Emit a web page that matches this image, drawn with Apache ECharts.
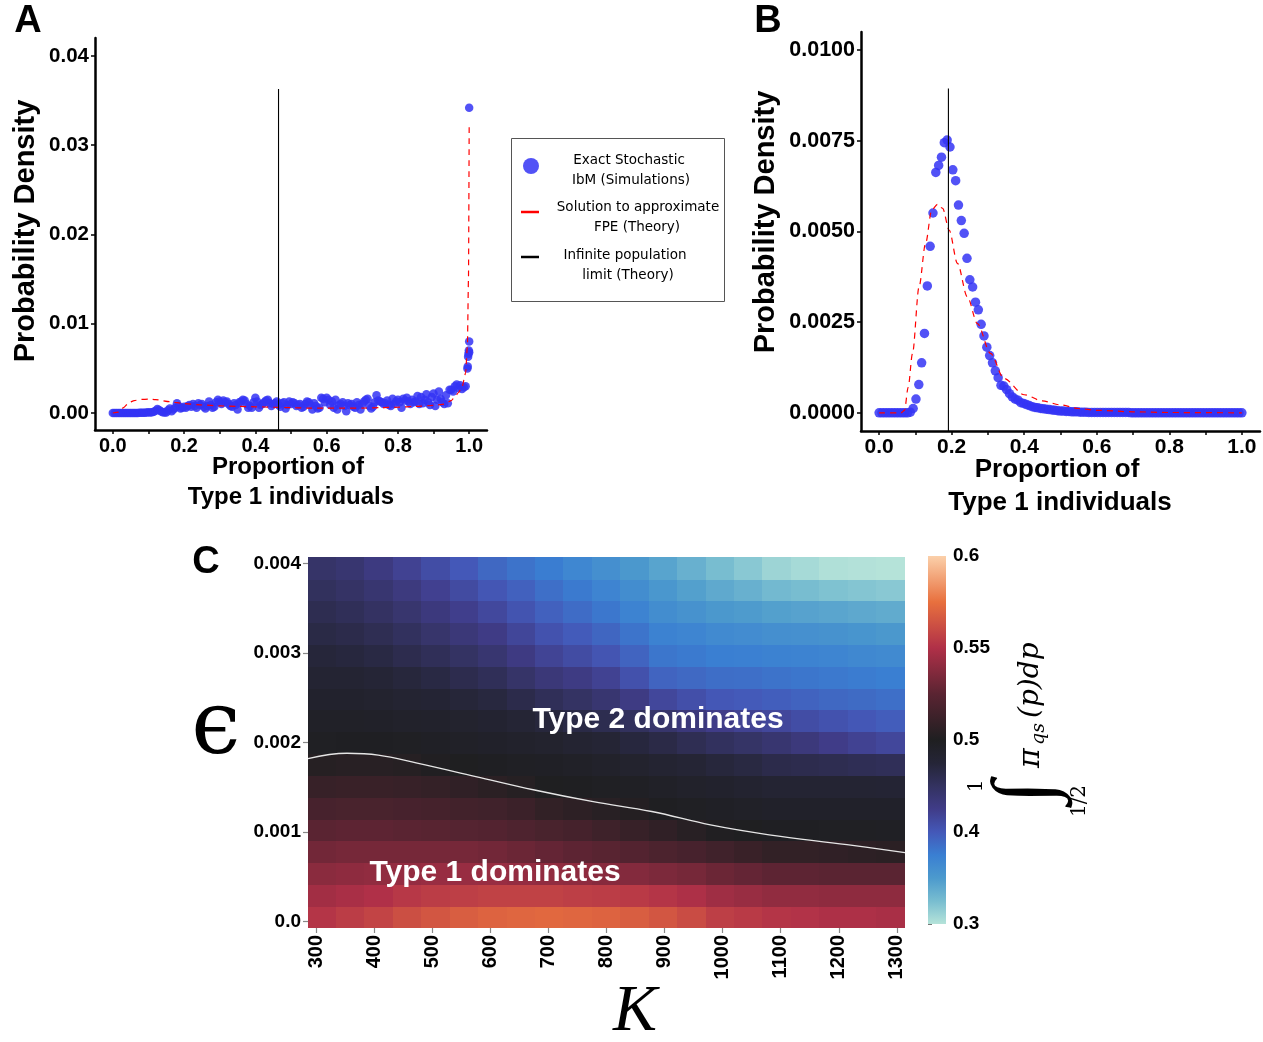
<!DOCTYPE html>
<html>
<head>
<meta charset="utf-8">
<script src="https://cdn.jsdelivr.net/npm/echarts@6/dist/echarts.min.js"></script>
<style>
html, body { margin: 0; padding: 0; background: #fff; }
#main { width: 1263px; height: 1042px; }
</style>
</head>
<body>
<div id="main"></div>
<script>
// ---------- panel A (values in units of 1e-3) ----------
const pA_step = 0.005;
const pA_sim = [
    0, 0, 0, 0, 0, 0, 0, 0, 0, 0,
    0, 0, 0, 0, 0, 0.02, 0.02, 0.03, 0.03, 0.05,
    0.1, 0.05, 0.08, 0.15, 0.25, 0.45, 0.35, 0.2, 0.1, 0.05,
    0.05, 0.3, 0.5, 0.2, 0.4, 0.6, 1.1, 0.8, 0.5, 0.6,
    0.7, 0.6, 0.8, 0.9, 0.7, 1.0, 0.8, 0.6, 1.1, 0.9,
    1.0, 0.7, 0.5, 0.8, 1.3, 0.9, 0.6, 0.7, 1.2, 1.5,
    1.3, 1.0, 1.4, 1.2, 1.3, 1.0, 0.8, 0.7, 1.1, 0.9,
    0.4, 1.2, 1.3, 1.5, 1.4, 1.0, 0.6, 0.8, 0.6, 1.2,
    1.7, 1.3, 0.6, 0.9, 1.0, 1.2, 1.4, 1.5, 1.1, 0.8,
    1.0, 1.1, 1.3, 0.9, 0.7, 1.1, 1.2, 0.5, 0.9, 1.3,
    1.0, 1.2, 1.1, 0.8, 0.9, 1.0, 0.6, 0.7, 1.0, 1.3,
    1.2, 0.9, 0.4, 1.1, 0.8, 0.5, 0.6, 1.7, 1.6, 1.2,
    1.7, 1.5, 0.9, 1.3, 0.6, 1.5, 0.4, 0.9, 1.0, 1.2,
    0.8, 0.2, 1.1, 0.9, 1.0, 0.7, 0.6, 1.2, 0.9, 0.4,
    1.0, 1.3, 1.5, 1.6, 0.8, 0.5, 0.7, 1.2, 2.0, 1.4,
    1.3, 1.2, 1.0, 1.1, 1.4, 0.9, 0.8, 1.6, 1.0, 1.3,
    1.5, 1.2, 0.6, 1.6, 1.4, 1.7, 1.3, 1.0, 1.5, 1.2,
    1.3, 1.9, 1.0, 1.8, 1.1, 1.5, 2.1, 1.2, 0.9, 1.8,
    2.2, 0.8, 1.5, 2.4, 1.6, 1.2, 1.0, 2.0, 1.1, 2.6,
    2.6, 2.4, 3.0, 3.2, 2.8, 3.1, 2.7, 2.9, 3.0, 5.0
];
const pA_tail = [[0.996, 5.2], [0.997, 6.3], [0.998, 6.6], [0.999, 7.0], [1.0, 8.0], [1.0, 6.8], [1.0, 34.2]];
const pA_fpe = [
    [0, 0], [0.015, 0.1], [0.03, 0.6], [0.045, 1.15], [0.06, 1.4], [0.08, 1.53], [0.1, 1.55],
    [0.12, 1.5], [0.16, 1.27], [0.2, 1.05], [0.25, 0.9], [0.3, 0.8], [0.35, 0.75], [0.4, 0.7],
    [0.45, 0.65], [0.5, 0.6], [0.55, 0.55], [0.6, 0.55], [0.65, 0.55], [0.7, 0.55], [0.75, 0.6],
    [0.8, 0.65], [0.85, 0.75], [0.9, 0.85], [0.93, 1.0], [0.95, 1.4], [0.96, 1.8], [0.97, 2.3],
    [0.98, 2.9], [0.99, 4.5], [0.995, 7.5], [0.998, 15], [1.0, 32.3]
];
const pA_mean = [[0.465, -1.9], [0.465, 36.3]];

// ---------- panel B (values in units of 1e-3) ----------
const pB_step = 1 / 128;
const pB_sim = [
    0, 0, 0, 0, 0, 0, 0, 0, 0, 0, 0, 0.02,
    0.12, 0.38, 0.78, 1.38, 2.19, 3.5, 4.59, 5.51, 6.63, 6.82,
    7.05, 7.45, 7.52, 7.33, 6.7, 6.4, 5.73, 5.3, 4.95, 4.26,
    3.67, 3.47, 3.05, 2.84, 2.44, 2.12, 1.81, 1.58, 1.38, 1.16,
    0.97, 0.76, 0.74, 0.64, 0.53, 0.44, 0.38, 0.35, 0.28, 0.26,
    0.23, 0.2, 0.17, 0.15, 0.14, 0.12, 0.11, 0.1, 0.09, 0.08,
    0.07, 0.06, 0.05, 0.05, 0.04, 0.04, 0.03, 0.03, 0.03, 0.02,
    0.02, 0.02, 0.01, 0.01, 0.01, 0.01, 0.01, 0.01, 0.01, 0.01,
    0.01, 0.01, 0.01, 0.01, 0.01, 0.01, 0.01, 0, 0, 0,
    0, 0, 0, 0, 0, 0, 0, 0, 0, 0,
    0, 0, 0, 0, 0, 0, 0, 0, 0, 0,
    0, 0, 0, 0, 0, 0, 0, 0, 0, 0,
    0, 0, 0, 0, 0, 0, 0
];
const pB_fpe = [
    [0, 0], [0.06, 0], [0.07, 0.07], [0.08, 0.7], [0.092, 1.64], [0.11, 3.47], [0.128, 4.67],
    [0.145, 5.59], [0.161, 5.75], [0.175, 5.64], [0.193, 5.04], [0.216, 4.12], [0.243, 3.2],
    [0.271, 2.46], [0.307, 1.64], [0.344, 0.95], [0.4, 0.5], [0.45, 0.33], [0.5, 0.22],
    [0.55, 0.12], [0.6, 0.07], [0.7, 0.03], [0.8, 0.01], [1.0, 0]
];
const pB_mean = [[0.191, -0.5], [0.191, 8.94]];

// ---------- panel C ----------
const kValues = [300, 350, 400, 450, 500, 550, 600, 650, 700, 750, 800,
    850, 900, 950, 1000, 1050, 1100, 1150, 1200, 1250, 1300];
const epsValues = [0, 0.00025, 0.0005, 0.00075, 0.001, 0.00125, 0.0015, 0.00175, 0.002,
    0.00225, 0.0025, 0.00275, 0.003, 0.00325, 0.0035, 0.00375, 0.004];
// one column per K, eps from bottom to top
const piCols = [
    [0.552, 0.546, 0.539, 0.532, 0.525, 0.517, 0.510, 0.503, 0.497, 0.492, 0.486, 0.480, 0.473, 0.466, 0.459, 0.452, 0.445],
    [0.555, 0.548, 0.540, 0.533, 0.526, 0.518, 0.511, 0.504, 0.498, 0.492, 0.486, 0.479, 0.471, 0.463, 0.455, 0.447, 0.440],
    [0.558, 0.550, 0.541, 0.533, 0.526, 0.518, 0.511, 0.504, 0.498, 0.491, 0.484, 0.476, 0.467, 0.458, 0.449, 0.440, 0.430],
    [0.562, 0.553, 0.542, 0.533, 0.525, 0.517, 0.510, 0.503, 0.497, 0.489, 0.481, 0.472, 0.461, 0.451, 0.441, 0.431, 0.420],
    [0.565, 0.555, 0.543, 0.533, 0.524, 0.516, 0.509, 0.501, 0.494, 0.487, 0.478, 0.467, 0.455, 0.443, 0.432, 0.421, 0.410],
    [0.568, 0.556, 0.543, 0.533, 0.523, 0.515, 0.507, 0.500, 0.492, 0.485, 0.474, 0.461, 0.448, 0.435, 0.423, 0.412, 0.400],
    [0.570, 0.557, 0.543, 0.532, 0.522, 0.514, 0.505, 0.498, 0.490, 0.482, 0.470, 0.455, 0.440, 0.427, 0.414, 0.402, 0.390],
    [0.571, 0.557, 0.542, 0.530, 0.520, 0.512, 0.503, 0.496, 0.488, 0.477, 0.463, 0.445, 0.429, 0.416, 0.404, 0.394, 0.383],
    [0.572, 0.557, 0.541, 0.528, 0.518, 0.508, 0.500, 0.494, 0.485, 0.472, 0.455, 0.435, 0.418, 0.405, 0.394, 0.385, 0.376],
    [0.571, 0.556, 0.540, 0.526, 0.516, 0.506, 0.499, 0.492, 0.481, 0.466, 0.448, 0.428, 0.411, 0.398, 0.387, 0.378, 0.368],
    [0.570, 0.555, 0.538, 0.524, 0.513, 0.504, 0.497, 0.489, 0.477, 0.460, 0.440, 0.420, 0.403, 0.391, 0.380, 0.370, 0.360],
    [0.568, 0.554, 0.537, 0.522, 0.510, 0.502, 0.495, 0.485, 0.471, 0.452, 0.428, 0.406, 0.392, 0.382, 0.371, 0.362, 0.352],
    [0.565, 0.552, 0.535, 0.519, 0.507, 0.499, 0.492, 0.481, 0.465, 0.443, 0.415, 0.392, 0.381, 0.372, 0.362, 0.353, 0.343],
    [0.561, 0.549, 0.533, 0.517, 0.504, 0.497, 0.489, 0.477, 0.458, 0.434, 0.408, 0.389, 0.378, 0.369, 0.357, 0.346, 0.334],
    [0.556, 0.545, 0.530, 0.514, 0.501, 0.494, 0.486, 0.472, 0.451, 0.425, 0.401, 0.386, 0.375, 0.365, 0.352, 0.339, 0.325],
    [0.554, 0.543, 0.528, 0.511, 0.500, 0.492, 0.483, 0.468, 0.446, 0.420, 0.399, 0.385, 0.374, 0.363, 0.349, 0.334, 0.318],
    [0.552, 0.541, 0.526, 0.508, 0.498, 0.490, 0.480, 0.463, 0.440, 0.415, 0.396, 0.383, 0.372, 0.360, 0.346, 0.328, 0.310],
    [0.551, 0.541, 0.526, 0.508, 0.498, 0.490, 0.480, 0.461, 0.433, 0.410, 0.393, 0.381, 0.371, 0.359, 0.344, 0.325, 0.306],
    [0.549, 0.540, 0.525, 0.507, 0.497, 0.490, 0.479, 0.459, 0.425, 0.405, 0.390, 0.379, 0.369, 0.357, 0.342, 0.322, 0.302],
    [0.549, 0.540, 0.525, 0.506, 0.497, 0.490, 0.479, 0.457, 0.420, 0.401, 0.388, 0.377, 0.367, 0.355, 0.340, 0.320, 0.301],
    [0.548, 0.540, 0.525, 0.505, 0.496, 0.490, 0.478, 0.455, 0.415, 0.397, 0.385, 0.375, 0.365, 0.352, 0.338, 0.318, 0.300]
];
// where the integral equals 1/2 (eps in 1e-3)
const boundaryK = [286, 353, 407, 474, 575, 676, 777, 878, 979, 1080, 1214, 1314];
const boundaryEps = [1.82, 1.88, 1.86, 1.77, 1.62, 1.47, 1.34, 1.23, 1.08, 0.97, 0.86, 0.77];

// colour scale (icefire-like), value -> colour
const cbValues = [0.3, 0.325, 0.35, 0.375, 0.4, 0.425, 0.45, 0.475, 0.5, 0.525, 0.55, 0.575, 0.6];
const cbColors = ['#b5e3d9', '#78bdd0', '#4c9acd', '#3a7fd2', '#4458b8', '#403c88', '#333260',
    '#252537', '#1f1f21', '#5a2432', '#b03048', '#e8703e', '#fbd0aa'];

// tick positions
const xTicksAB = [0, 0.1, 0.2, 0.3, 0.4, 0.5, 0.6, 0.7, 0.8, 0.9, 1.0];
const xLabelsAB = [0, 0.2, 0.4, 0.6, 0.8, 1.0];
const yLabelsA = [0, 0.01, 0.02, 0.03, 0.04];
const yLabelsB = [0, 0.0025, 0.005, 0.0075, 0.01];
const kTicks = [300, 400, 500, 600, 700, 800, 900, 1000, 1100, 1200, 1300];
const epsTicks = [0, 0.001, 0.002, 0.003, 0.004];

const blue = 'rgba(52, 52, 245, 0.85)';
const sans = '"Liberation Sans", Arial, sans-serif';
const serif = '"DejaVu Serif", serif';

const simA = pA_sim.map((v, i) => [i * pA_step, v / 1000]).concat(pA_tail.map(d => [d[0], d[1] / 1000]));
const simB = pB_sim.map((v, i) => [i * pB_step, v / 1000]);
const toReal = arr => arr.map(d => [d[0], d[1] / 1000]);

const heatData = [];
kValues.forEach((k, i) => epsValues.forEach((e, j) => heatData.push([i, j, piCols[i][j]])));
const boundary = boundaryK.map((k, i) => [k, boundaryEps[i] / 1000]);

function valueAxis(grid, min, max, ticks, labels, fmt, fontSize, extra) {
    return Object.assign({
        type: 'value', gridIndex: grid, min: min, max: max,
        splitLine: { show: false },
        axisLine: { show: true, onZero: false, lineStyle: { color: '#000', width: 2.5 } },
        axisTick: { show: true, customValues: ticks, length: 4, lineStyle: { color: '#000', width: 1.5 } },
        axisLabel: {
            customValues: labels, formatter: fmt, color: '#000', fontWeight: 'bold',
            fontSize: fontSize, fontFamily: sans, margin: 6
        }
    }, extra || {});
}

const cbPos = v => v >= 0.5 ? (0.6 - v) / 0.1 * 0.5 : 0.5 + (0.5 - v) / 0.2 * 0.5;
const cbStops = cbValues.map((v, i) => ({ offset: cbPos(v), color: cbColors[i] }))
    .sort((a, b) => a.offset - b.offset);

function txt(text, x, y, font, fill) {
    return { type: 'text', z: 100,
        style: { text: text, x: x, y: y, font: font, fill: fill || '#000', align: 'center', verticalAlign: 'middle' } };
}
function rtxt(text, x, y, font) {  // rotated 90 deg, reads bottom to top
    return { type: 'text', z: 100, x: x, y: y, rotation: Math.PI / 2,
        style: { text: text, x: 0, y: 0, font: font, fill: '#000', align: 'center', verticalAlign: 'middle' } };
}
const legendFont = '13.5px "DejaVu Sans"';

const chart = echarts.init(document.getElementById('main'));
const option = {
    animation: false,
    backgroundColor: '#fff',
    grid: [
        { left: 95, top: 38, width: 392, height: 392, containLabel: false, outerBoundsMode: 'none' },
        { left: 861, top: 32, width: 399, height: 399, containLabel: false, outerBoundsMode: 'none' },
        { left: 308, top: 557, width: 597, height: 371, containLabel: false, outerBoundsMode: 'none' },
        { left: 928, top: 556, width: 18, height: 184, containLabel: false, outerBoundsMode: 'none' },
        { left: 928, top: 740, width: 18, height: 184, containLabel: false, outerBoundsMode: 'none' }
    ],
    xAxis: [
        valueAxis(0, -0.05, 1.05, xTicksAB, xLabelsAB, v => v.toFixed(1), 20),
        valueAxis(1, -0.05, 1.05, xTicksAB, xLabelsAB, v => v.toFixed(1), 21),
        { type: 'category', gridIndex: 2, data: kValues, position: 'top', show: false },
        {
            type: 'value', gridIndex: 2, min: 286, max: 1314, position: 'bottom',
            splitLine: { show: false }, axisLine: { show: false },
            axisTick: { customValues: kTicks, length: 5, lineStyle: { color: '#888', width: 1.2 } },
            axisLabel: { customValues: kTicks, rotate: 90, margin: 7, color: '#000', fontWeight: 'bold', fontSize: 20, fontFamily: sans,
                formatter: v => String(v) }
        },
        { type: 'value', gridIndex: 3, show: false },
        { type: 'value', gridIndex: 4, show: false }
    ],
    yAxis: [
        valueAxis(0, -0.0019, 0.042, yLabelsA, yLabelsA, v => v.toFixed(2), 20.5),
        valueAxis(1, -0.0005, 0.0105, yLabelsB, yLabelsB, v => v.toFixed(4), 21.5),
        { type: 'category', gridIndex: 2, data: epsValues, position: 'right', show: false },
        {
            type: 'value', gridIndex: 2, min: -0.00007, max: 0.00407, position: 'left',
            splitLine: { show: false }, axisLine: { show: false },
            axisTick: { customValues: epsTicks, length: 5, lineStyle: { color: '#888', width: 1.2 } },
            axisLabel: {
                customValues: epsTicks, margin: 7, color: '#000', fontWeight: 'bold', fontSize: 19, fontFamily: sans,
                formatter: v => v === 0 ? '0.0' : v.toFixed(3)
            }
        },
        {
            type: 'value', gridIndex: 3, min: 0.5, max: 0.6, position: 'right',
            splitLine: { show: false }, axisLine: { show: false },
            axisTick: { customValues: [0.5, 0.55, 0.6], length: 4, lineStyle: { color: '#777' } },
            axisLabel: { customValues: [0.5, 0.55, 0.6], margin: 7, color: '#000', fontWeight: 'bold', fontSize: 19, fontFamily: sans,
                formatter: v => String(+v.toFixed(2)) }
        },
        {
            type: 'value', gridIndex: 4, min: 0.3, max: 0.5, position: 'right',
            splitLine: { show: false }, axisLine: { show: false },
            axisTick: { customValues: [0.3, 0.4], length: 4, lineStyle: { color: '#777' } },
            axisLabel: { customValues: [0.3, 0.4], margin: 7, color: '#000', fontWeight: 'bold', fontSize: 19, fontFamily: sans,
                formatter: v => String(+v.toFixed(2)) }
        }
    ],
    visualMap: {
        type: 'continuous', show: false, seriesIndex: 6, dimension: 2, min: 0.3, max: 0.6,
        inRange: { color: cbColors }
    },
    series: [
        { type: 'scatter', xAxisIndex: 0, yAxisIndex: 0, data: simA, symbolSize: 8.5, itemStyle: { color: blue, opacity: 1 } },
        { type: 'line', xAxisIndex: 0, yAxisIndex: 0, data: toReal(pA_fpe), showSymbol: false, smooth: 0.2, smoothMonotone: 'x',
            lineStyle: { color: '#ff0000', width: 1.2, type: [6, 5] } },
        { type: 'line', xAxisIndex: 0, yAxisIndex: 0, data: toReal(pA_mean), showSymbol: false,
            lineStyle: { color: '#000', width: 1.1 } },
        { type: 'scatter', xAxisIndex: 1, yAxisIndex: 1, data: simB, symbolSize: 9.5, itemStyle: { color: blue, opacity: 1 } },
        { type: 'line', xAxisIndex: 1, yAxisIndex: 1, data: toReal(pB_fpe), showSymbol: false, smooth: 0.3, smoothMonotone: 'x',
            lineStyle: { color: '#ff0000', width: 1.2, type: [6, 5] } },
        { type: 'line', xAxisIndex: 1, yAxisIndex: 1, data: toReal(pB_mean), showSymbol: false,
            lineStyle: { color: '#000', width: 1.1 } },
        {
            // heat cells drawn slightly overlapping so no seams show between them
            type: 'custom', xAxisIndex: 2, yAxisIndex: 2, data: heatData, clip: true,
            encode: { x: 0, y: 1 },
            renderItem: function (params, api) {
                const p = api.coord([api.value(0), api.value(1)]);
                const s = api.size([1, 1]);
                return {
                    type: 'rect',
                    shape: { x: Math.floor(p[0] - s[0] / 2), y: Math.floor(p[1] - s[1] / 2),
                        width: Math.ceil(s[0]) + 1, height: Math.ceil(s[1]) + 1 },
                    style: { fill: api.visual('color') }
                };
            }
        },
        { type: 'line', xAxisIndex: 3, yAxisIndex: 3, data: boundary, showSymbol: false, smooth: 0.4, z: 5,
            lineStyle: { color: '#e6e6e6', width: 1.3 } }
    ],
    graphic: { elements: [
        // panel letters
        txt('A', 28, 22, 'bold 38px ' + sans),
        txt('B', 768, 22, 'bold 38px ' + sans),
        txt('C', 206, 563, 'bold 38px ' + sans),
        // axis titles A / B
        rtxt('Probability Density', 26, 231, 'bold 29px ' + sans),
        rtxt('Probability Density', 766, 222, 'bold 29px ' + sans),
        txt('Proportion of', 288, 467, 'bold 24px ' + sans),
        txt('Type 1 individuals', 291, 497, 'bold 24px ' + sans),
        txt('Proportion of', 1057, 470, 'bold 26px ' + sans),
        txt('Type 1 individuals', 1060, 503, 'bold 26px ' + sans),
        // legend box
        { type: 'rect', z: 99, shape: { x: 511.5, y: 138.5, width: 213, height: 163 },
          style: { fill: '#fff', stroke: '#555', lineWidth: 1 } },
        { type: 'circle', z: 100, shape: { cx: 531, cy: 166, r: 8 }, style: { fill: blue } },
        { type: 'line', z: 100, shape: { x1: 521, y1: 212, x2: 539, y2: 212 }, style: { stroke: '#ff0000', lineWidth: 2.5 } },
        { type: 'line', z: 100, shape: { x1: 521, y1: 257, x2: 539, y2: 257 }, style: { stroke: '#000', lineWidth: 2.5 } },
        txt('Exact Stochastic', 629, 160, legendFont, '#000'),
        txt('IbM (Simulations)', 631, 180, legendFont, '#000'),
        txt('Solution to approximate', 638, 207, legendFont, '#000'),
        txt('FPE (Theory)', 637, 227, legendFont, '#000'),
        txt('Infinite population', 625, 255, legendFont, '#000'),
        txt('limit (Theory)', 628, 275, legendFont, '#000'),
        // panel C annotations
        txt('Type 2 dominates', 658, 720, 'bold 30px ' + sans, '#fff'),
        txt('Type 1 dominates', 495, 873, 'bold 30px ' + sans, '#fff'),
        txt('\u03F5', 216, 730, '88px ' + serif),
        txt('K', 635, 1013, 'italic 66px "Liberation Serif", serif'),
        // colour bar
        { type: 'rect', z: 90, shape: { x: 928, y: 556, width: 18, height: 368 },
          style: { fill: new echarts.graphic.LinearGradient(0, 0, 0, 1, cbStops) } },
        // colour bar title: integral from 1/2 to 1 of pi_qs(p) dp
        { type: 'group', x: 1030, y: 790, rotation: Math.PI / 2, z: 100, children: [
            { type: 'text', style: { text: '\u222B', x: -2, y: -2, font: '84px "Liberation Serif", serif', fill: '#000', align: 'center', verticalAlign: 'middle' } },
            { type: 'text', style: { text: '1', x: 4, y: -53, font: '20px ' + serif, fill: '#000', align: 'center', verticalAlign: 'middle' } },
            { type: 'text', style: { text: '1/2', x: -11, y: 50, font: '20px ' + serif, fill: '#000', align: 'center', verticalAlign: 'middle' } },
            { type: 'text', style: { text: '\u03C0', x: 22, y: 1, font: 'italic 30px ' + serif, fill: '#000', align: 'left', verticalAlign: 'middle' } },
            { type: 'text', style: { text: 'qs', x: 45, y: 9, font: 'italic 19px ' + serif, fill: '#000', align: 'left', verticalAlign: 'middle' } },
            { type: 'text', style: { text: '(p)dp', x: 72, y: 1, font: 'italic 28px ' + serif, fill: '#000', align: 'left', verticalAlign: 'middle' } }
        ] }
    ] }
};
chart.setOption(option);
</script>
</body>
</html>
